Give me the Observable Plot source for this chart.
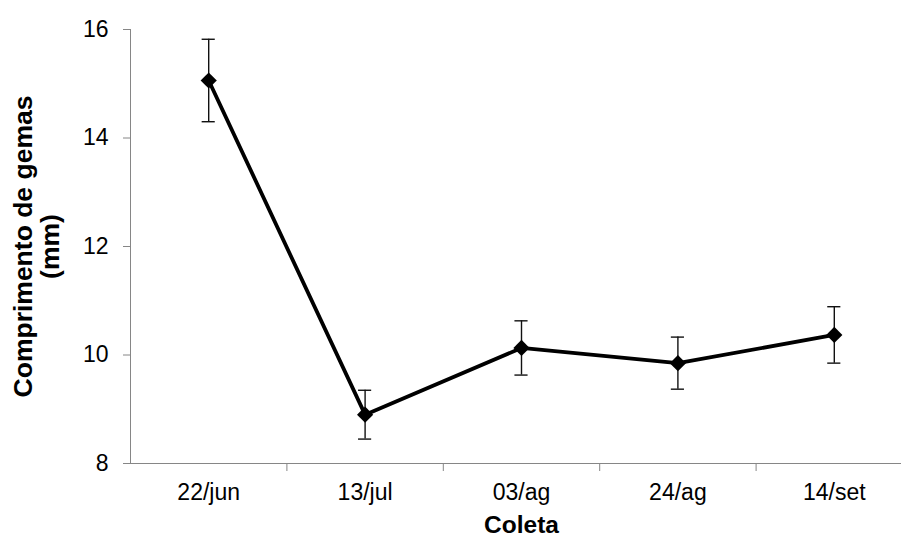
<!DOCTYPE html>
<html><head><meta charset="utf-8">
<script src="https://cdn.jsdelivr.net/npm/d3@7"></script>
<script src="https://cdn.jsdelivr.net/npm/@observablehq/plot@0.6"></script>
<style>body{margin:0;background:#fff;overflow:hidden} #chart svg{overflow:hidden}</style>
</head><body><div id="chart"></div>
<script>
const categories = ["22/jun", "13/jul", "03/ag", "24/ag", "14/set"];
const means = [15.06, 8.90, 10.13, 9.85, 10.37];
const errors = [0.76, 0.45, 0.50, 0.48, 0.52];
const yTicks = [8, 10, 12, 14, 16];
const xLabel = "Coleta";
const yLabel = "Comprimento de gemas\n(mm)";

const data = categories.map((c, i) => ({i, c, mean: means[i], lo: means[i] - errors[i], hi: means[i] + errors[i]}));
const xDomain = [-0.5, categories.length - 0.5];
const bounds = categories.slice(1).map((_, i) => i + 0.5);
const capHalf = 0.042;
const axisGray = "#868686";

const chart = Plot.plot({
  width: 901, height: 539,
  marginLeft: 130, marginRight: -11, marginTop: 29, marginBottom: 76,
  style: {fontFamily: "'Liberation Sans', Arial, sans-serif", background: "#fff", color: "#000", overflow: "hidden"},
  x: {domain: xDomain},
  y: {domain: [yTicks[0], yTicks[yTicks.length - 1]]},
  marks: [
    Plot.axisY({ticks: yTicks, tickSize: 7, tickPadding: 15, fontSize: 23, stroke: axisGray, label: null}),
    Plot.axisX(data.map(d => d.i), {tickSize: 0, tickPadding: 20, fontSize: 23, tickFormat: i => categories[i], label: null}),
    Plot.axisX(bounds, {tickSize: 8, tickFormat: () => "", stroke: axisGray, label: null}),
    Plot.ruleY([yTicks[0]], {stroke: axisGray, strokeWidth: 1}),
    Plot.ruleX([xDomain[0]], {stroke: axisGray, strokeWidth: 1}),
    Plot.ruleX(data, {x: "i", y1: "lo", y2: "hi", stroke: "#111", strokeWidth: 1.4}),
    Plot.ruleY(data, {y: "hi", x1: d => d.i - capHalf, x2: d => d.i + capHalf, stroke: "#111", strokeWidth: 1.4}),
    Plot.ruleY(data, {y: "lo", x1: d => d.i - capHalf, x2: d => d.i + capHalf, stroke: "#111", strokeWidth: 1.4}),
    Plot.line(data, {x: "i", y: "mean", stroke: "#000", strokeWidth: 3.8}),
    Plot.dot(data, {x: "i", y: "mean", symbol: "diamond2", r: 7.3, fill: "#000", stroke: null}),
    Plot.text([xLabel], {frameAnchor: "bottom", dy: 69, fontSize: 24.5, fontWeight: "bold", fill: "#000"}),
    Plot.text([yLabel], {frameAnchor: "left", textAnchor: "middle", rotate: -90, dx: -94, fontSize: 26.5, fontWeight: "bold", lineHeight: 1.02, fill: "#000"})
  ]
});
document.getElementById("chart").appendChild(chart);
</script>
</body></html>
